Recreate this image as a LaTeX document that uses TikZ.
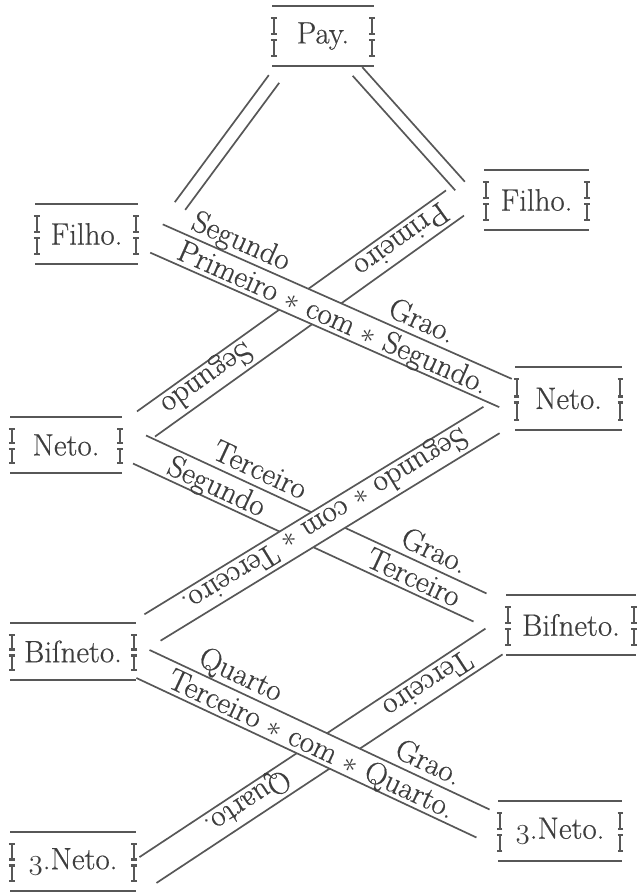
\documentclass[tikz,border=0pt]{standalone}
\usepackage{fontspec}
\newfontfamily\kinfont{Latin Modern Roman}[FakeBold=0.5]
\usetikzlibrary{calc}
\usetikzlibrary{arrows.meta}
\definecolor{ink}{rgb}{0.34, 0.34, 0.34}
\definecolor{dink}{rgb}{0.24, 0.24, 0.24}
\newcommand{\oldthree}{{\usefont{OML}{cmm}{m}{it}3}}
\newcommand{\kinband}[3]{%
  \fill [white] ($(#1)!#3!90:(#2)$) -- ($(#2)!#3!-90:(#1)$)
    -- ($(#2)!#3!90:(#1)$) -- ($(#1)!#3!-90:(#2)$) -- cycle;
  \draw [edge] ($(#1)!#3!90:(#2)$) -- ($(#2)!#3!-90:(#1)$);
  \draw [edge] ($(#1)!#3!-90:(#2)$) -- ($(#2)!#3!90:(#1)$);}
\tikzset{kin/.style = {inner sep = 0, text = dink, font = \kinfont\fontsize{22}{24}\selectfont}}
\tikzset{rule/.style = {ink, line width = 1.2pt}}
\tikzset{edge/.style = {ink, line width = 1.2pt}}
\tikzset{sidebar/.style = {ink, line width = 1.6pt, {Bar[width = 4pt]}-{Bar[width = 4pt]}}}
\tikzset{btext/.style = {sloped, allow upside down, anchor = base, inner sep = 0,
                         text = dink, font = \kinfont\fontsize{22}{24}\selectfont}}

\begin{document}
\begin{tikzpicture}[x = 0.025cm, y = -0.025cm]
  \useasboundingbox (0, 0) rectangle (637, 895);

  \node [kin, minimum width = 69.7pt, minimum height = 42.7pt] (pay) at (323, 36) {Pay.};
  \node [kin, minimum width = 70.4pt, minimum height = 42.7pt] (filhoL) at (86.5, 234) {Filho.};
  \node [kin, minimum width = 71.8pt, minimum height = 42.7pt] (filhoR) at (536.5, 200) {Filho.};
  \node [kin, minimum width = 76.8pt, minimum height = 39.8pt] (netoL) at (66, 445) {Neto.};
  \node [kin, minimum width = 73.3pt, minimum height = 44.8pt] (netoR) at (568.5, 398.5) {Neto.};
  \node [kin, minimum width = 86.8pt, minimum height = 40.5pt] (bisnetoL) at (73, 651.5) {Biſneto.};
  \node [kin, minimum width = 89.6pt, minimum height = 42.7pt] (bisnetoR) at (571, 625) {Biſneto.};
  \node [kin, minimum width = 86.8pt, minimum height = 42pt] (tnetoL) at (73, 861.5) {\oldthree.Neto.};
  \node [kin, minimum width = 85.4pt, minimum height = 42.7pt] (tnetoR) at (560, 831) {\oldthree.Neto.};

  \foreach \n in {pay, filhoL, filhoR, netoL, netoR, bisnetoL, bisnetoR, tnetoL, tnetoR} {
    \draw [rule] ([xshift = -1pt] \n.north west) -- ([xshift = 1pt] \n.north east);
    \draw [rule] ([xshift = -1pt] \n.south west) -- ([xshift = 1pt] \n.south east);
    \draw [sidebar] ([yshift = -7.8pt] \n.north west) -- ([yshift = 0.7pt] \n.west);
    \draw [sidebar] ([yshift = -2pt] \n.west) -- ([yshift = 6.4pt] \n.south west);
    \draw [sidebar] ([yshift = -7.8pt] \n.north east) -- ([yshift = 0.7pt] \n.east);
    \draw [sidebar] ([yshift = -2pt] \n.east) -- ([yshift = 6.4pt] \n.south east);
  }

  \coordinate (A0) at (274, 79);
  \coordinate (A1) at (180, 206);
  \coordinate (B0) at (357.5, 71.5);
  \coordinate (B1) at (460, 186);
  \coordinate (C0) at (156.5, 238.5);
  \coordinate (C1) at (505.5, 393);
  \coordinate (D0) at (455, 203);
  \coordinate (D1) at (146, 424);
  \coordinate (E0) at (139.5, 449.5);
  \coordinate (E1) at (480, 607.5);
  \coordinate (F0) at (491.5, 420);
  \coordinate (F1) at (152.5, 627.5);
  \coordinate (G0) at (494, 641.5);
  \coordinate (G1) at (148, 870);
  \coordinate (H0) at (143, 664);
  \coordinate (H1) at (483, 823.5);

  \kinband{A0}{A1}{4.6pt}
  \kinband{B0}{B1}{4.6pt}
  \kinband{D0}{D1}{11pt}
  \kinband{C0}{C1}{11pt}
  \kinband{E0}{E1}{11pt}
  \kinband{F0}{F1}{11pt}
  \kinband{G0}{G1}{11pt}
  \kinband{H0}{H1}{11pt}

  \path ($(C0)!16pt!90:(C1)$) -- ($(C1)!16pt!-90:(C0)$)
    node [btext, pos = 0.206] (c-up) {Segundo}
    node [btext, pos = 0.724] (c-grao) {Grao.};
  \path ($(C0)!7.5pt!-90:(C1)$) -- ($(C1)!7.5pt!90:(C0)$)
    node [btext, pos = 0.507] (c-in) {Primeiro $\ast$ com $\ast$ Segundo.};

  \path ($(D0)!7.5pt!-90:(D1)$) -- ($(D1)!7.5pt!90:(D0)$)
    node [btext, pos = 0.172] (d-in) {Primeiro}
    node [btext, pos = 0.80] (d-out) {Segundo};

  \path ($(E0)!16pt!90:(E1)$) -- ($(E1)!16pt!-90:(E0)$)
    node [btext, pos = 0.314] (e-up) {Terceiro}
    node [btext, pos = 0.827] (e-grao) {Grao.};
  \path ($(E0)!7.5pt!-90:(E1)$) -- ($(E1)!7.5pt!90:(E0)$)
    node [btext, pos = 0.228] (e-in) {Segundo}
    node [btext, pos = 0.806] (e-out) {Terceiro};

  \path ($(F0)!7.5pt!-90:(F1)$) -- ($(F1)!7.5pt!90:(F0)$)
    node [btext, pos = 0.49] (f-in) {Segundo $\ast$ com $\ast$ Terceiro.};

  \path ($(G0)!7.5pt!-90:(G1)$) -- ($(G1)!7.5pt!90:(G0)$)
    node [btext, pos = 0.19] (g-in) {Terceiro}
    node [btext, pos = 0.71] (g-out) {Quarto.};

  \path ($(H0)!16pt!90:(H1)$) -- ($(H1)!16pt!-90:(H0)$)
    node [btext, pos = 0.248] (h-up) {Quarto}
    node [btext, pos = 0.80] (h-grao) {Grao.};
  \path ($(H0)!7.5pt!-90:(H1)$) -- ($(H1)!7.5pt!90:(H0)$)
    node [btext, pos = 0.497] (h-in) {Terceiro $\ast$ com $\ast$ Quarto.};
\end{tikzpicture}
\end{document}
